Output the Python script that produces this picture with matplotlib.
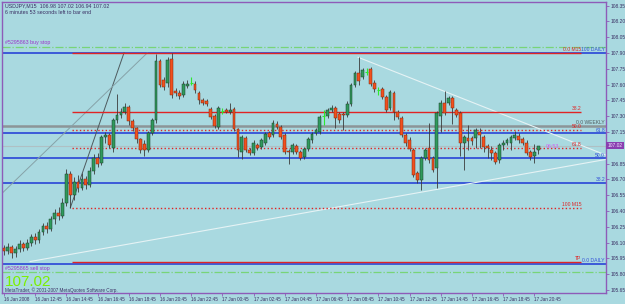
import numpy as np
import matplotlib
matplotlib.use("Agg")
import matplotlib.pyplot as plt

plt.rcParams["font.family"] = ["Liberation Sans", "DejaVu Sans"]

# --- USDJPY M15 candles (bar 0 = 16 Jan 10:45) ---
opens = [106.05, 106.02, 106.06, 106.00, 106.04, 106.09, 106.05, 106.10, 106.15, 106.12,
         106.20, 106.26, 106.23, 106.32, 106.38, 106.35, 106.48, 106.75, 106.55, 106.68,
         106.62, 106.70, 106.65, 106.78, 106.90, 106.86, 107.10, 107.12, 107.00, 107.26,
         107.31, 107.34, 107.39, 107.25, 107.19, 107.08, 107.04, 106.98, 107.14, 107.26,
         107.82, 107.64, 107.62, 107.84, 107.54, 107.52, 107.50, 107.59, 107.62, 107.61,
         107.52, 107.45, 107.44, 107.37, 107.30, 107.20, 107.35, 107.36, 107.34, 107.37,
         107.18, 106.96, 107.09, 106.98, 106.95, 107.03, 107.01, 107.05, 107.14, 107.12,
         107.23, 107.20, 107.12, 106.97, 106.96, 107.02, 106.96, 106.91, 106.99, 107.07,
         107.14, 107.15, 107.30, 107.30, 107.36, 107.38, 107.32, 107.32, 107.31, 107.42,
         107.60, 107.71, 107.67, 107.72, 107.75, 107.62, 107.55, 107.56, 107.48, 107.38,
         107.52, 107.34, 107.28, 107.12, 107.07, 106.98, 106.76, 106.69, 106.90, 107.00,
         106.90, 106.81, 107.30, 107.43, 107.43, 107.47, 107.36, 107.33, 107.05, 107.09,
         107.09, 107.09, 107.15, 107.10, 107.02, 106.98, 106.95, 106.88, 107.03, 107.05,
         107.05, 107.09, 107.11, 107.08, 107.05, 106.96, 106.92, 106.98]
highs = [106.08, 106.10, 106.08, 106.07, 106.12, 106.11, 106.13, 106.18, 106.19, 106.23,
         106.29, 106.30, 106.35, 106.42, 106.44, 106.52, 106.80, 106.78, 106.72, 106.74,
         106.76, 106.73, 106.82, 106.94, 106.95, 107.12, 107.15, 107.14, 107.28, 107.51,
         107.38, 107.43, 107.41, 107.27, 107.20, 107.09, 107.07, 107.16, 107.28, 107.89,
         107.84, 107.67, 107.86, 107.90, 107.57, 107.55, 107.63, 107.64, 107.67, 107.63,
         107.54, 107.47, 107.46, 107.39, 107.32, 107.40, 107.38, 107.38, 107.43, 107.39,
         107.19, 107.12, 107.11, 107.00, 107.07, 107.05, 107.09, 107.15, 107.16, 107.26,
         107.25, 107.22, 107.14, 106.99, 107.05, 107.04, 106.98, 107.01, 107.10, 107.15,
         107.19, 107.31, 107.36, 107.38, 107.41, 107.40, 107.34, 107.34, 107.44, 107.62,
         107.73, 107.86, 107.76, 107.76, 107.77, 107.64, 107.58, 107.58, 107.50, 107.55,
         107.54, 107.36, 107.30, 107.14, 107.10, 107.00, 106.78, 106.92, 107.00, 107.24,
         106.92, 107.35, 107.45, 107.54, 107.49, 107.49, 107.38, 107.35, 107.12, 107.22,
         107.11, 107.19, 107.19, 107.12, 107.04, 107.02, 106.97, 107.05, 107.07, 107.09,
         107.12, 107.16, 107.14, 107.10, 107.07, 106.98, 107.04, 107.02]
lows = [105.98, 105.99, 105.95, 105.96, 106.01, 106.02, 106.03, 106.07, 106.09, 106.10,
        106.17, 106.19, 106.21, 106.28, 106.31, 106.33, 106.45, 106.43, 106.50, 106.58,
        106.60, 106.61, 106.63, 106.75, 106.82, 106.84, 107.05, 107.00, 106.96, 107.24,
        107.28, 107.32, 107.22, 107.16, 107.05, 106.95, 106.92, 106.96, 107.12, 107.24,
        107.58, 107.55, 107.58, 107.47, 107.49, 107.46, 107.48, 107.57, 107.60, 107.52,
        107.42, 107.41, 107.40, 107.27, 107.19, 107.18, 107.32, 107.33, 107.32, 107.16,
        106.91, 106.89, 106.96, 106.93, 106.93, 106.98, 106.99, 107.03, 107.08, 107.10,
        107.18, 107.08, 106.94, 106.85, 106.94, 106.94, 106.88, 106.89, 106.97, 107.05,
        107.12, 107.13, 107.22, 107.28, 107.34, 107.19, 107.24, 107.17, 107.29, 107.40,
        107.58, 107.60, 107.65, 107.69, 107.59, 107.53, 107.50, 107.46, 107.34, 107.36,
        107.26, 107.27, 107.10, 107.02, 106.97, 106.72, 106.67, 106.60, 106.88, 106.86,
        106.77, 106.62, 107.15, 107.31, 107.41, 107.23, 107.29, 106.92, 106.79, 106.98,
        107.03, 107.00, 107.00, 106.96, 106.90, 106.88, 106.85, 106.86, 106.98, 107.03,
        106.98, 107.07, 107.05, 107.03, 106.93, 106.88, 106.86, 106.94]
closes = [106.02, 106.06, 106.00, 106.04, 106.09, 106.05, 106.10, 106.15, 106.12, 106.20,
          106.26, 106.23, 106.32, 106.38, 106.35, 106.48, 106.75, 106.55, 106.68, 106.62,
          106.70, 106.65, 106.78, 106.90, 106.85, 107.10, 107.12, 107.03, 107.26, 107.31,
          107.34, 107.39, 107.25, 107.19, 107.08, 106.98, 106.98, 107.14, 107.26, 107.82,
          107.60, 107.58, 107.83, 107.50, 107.52, 107.49, 107.61, 107.61, 107.62, 107.55,
          107.45, 107.43, 107.42, 107.29, 107.21, 107.38, 107.35, 107.34, 107.36, 107.18,
          106.98, 107.10, 106.98, 106.95, 107.05, 107.00, 107.07, 107.13, 107.10, 107.24,
          107.20, 107.10, 106.96, 106.96, 107.03, 106.96, 106.90, 106.99, 107.08, 107.13,
          107.17, 107.29, 107.30, 107.36, 107.38, 107.28, 107.26, 107.31, 107.42, 107.60,
          107.71, 107.63, 107.74, 107.72, 107.61, 107.56, 107.55, 107.48, 107.36, 107.53,
          107.34, 107.29, 107.12, 107.05, 106.99, 106.74, 106.69, 106.90, 106.98, 106.88,
          106.79, 107.33, 107.43, 107.33, 107.47, 107.38, 107.31, 107.05, 107.10, 107.06,
          107.06, 107.17, 107.12, 107.01, 107.00, 106.95, 106.87, 107.03, 107.05, 107.07,
          107.10, 107.12, 107.07, 107.05, 106.95, 106.91, 106.96, 107.02]

time_ticks = [0, 8, 16, 24, 32, 40, 48, 56, 64, 72, 80, 88, 96, 104, 112, 120, 128, 136]
time_labels = ["16 Jan 2008", "16 Jan 12:45", "16 Jan 14:45", "16 Jan 16:45", "16 Jan 18:45",
               "16 Jan 20:45", "16 Jan 22:45", "17 Jan 00:45", "17 Jan 02:45", "17 Jan 04:45",
               "17 Jan 06:45", "17 Jan 08:45", "17 Jan 10:45", "17 Jan 12:45", "17 Jan 14:45",
               "17 Jan 16:45", "17 Jan 18:45", "17 Jan 20:45"]
price_ticks = [108.35, 108.20, 108.05, 107.90, 107.75, 107.60, 107.45, 107.30, 107.15,
               106.85, 106.70, 106.55, 106.40, 106.25, 106.10, 105.95, 105.80, 105.65]

# Fibonacci levels
daily_levels = [107.90, 107.136, 106.90, 106.664, 105.895]
daily_labels = ["100 DAILY", "61.8", "50.0", "38.2", "0.0 DAILY"]
m15_levels = [107.905, 107.34, 107.17, 106.995, 106.43, 105.915]
m15_labels = ["0.0 M15", "38.2", "50.0", "61.8", "100 M15", "TP"]
m15_styles = ["-", "-", ":", ":", ":", "-"]
weekly_level = 107.21
bid = 107.02
buy_stop = 107.96
sell_stop = 105.82

# trend lines: (bar0, price0, bar1, price1)
fib_diag = (17.0, 106.43, 30.8, 107.905)
daily_diag = (-1.0, 106.55, 36.7, 107.90)
resist_line = (90.8, 107.86, 154.4, 106.93)
support_line = (6.7, 105.92, 154.4, 106.89)

BG = "#A9D9E0"
PURPLE = "#8E5BB8"
BLUE = "#3350D8"
RED = "#E02424"
TXT = "#3A2F63"

fig = plt.figure(figsize=(6.25, 3.04), dpi=100, facecolor=BG)
ax = fig.add_axes([2 / 625, 11 / 304, 604 / 625, 291 / 304], facecolor=BG)
ax.set_xlim(-0.51, 154.36)
ax.set_ylim(105.621, 108.385)

# --- horizontal levels ---
ax.axhline(buy_stop, color="#78D478", lw=0.9, ls="-.", zorder=1)
ax.axhline(sell_stop, color="#78D478", lw=0.9, ls="-.", zorder=1)
ax.axhline(weekly_level, color="#8C9598", lw=1.8, zorder=1)
ax.axhline(bid, color="#AFC0C4", lw=0.8, zorder=1)
for lv, lb in zip(daily_levels, daily_labels):
    ax.axhline(lv, color=BLUE, lw=1.3, zorder=2)
    ax.text(154.1, lv + 0.008, lb, color=BLUE, fontsize=3.6, ha="right", va="bottom", zorder=6)
for lv, lb, st in zip(m15_levels, m15_labels, m15_styles):
    ax.hlines(lv, 17.4, 148.0, color=RED, lw=1.0, linestyles=st, zorder=3)
    ax.text(148.0, lv + 0.008, lb, color=RED, fontsize=3.6, ha="right", va="bottom", zorder=6)
ax.text(154.1, weekly_level + 0.008, "0.0 WEEKLY", color="#505A5E", fontsize=3.6,
        ha="right", va="bottom", zorder=6)

# --- trend lines ---
for (x0, y0, x1, y1), col, lw in [(fib_diag, "#4E5A5E", 0.7), (daily_diag, "#86A2A8", 0.7),
                                  (resist_line, "#E6F3F5", 0.8), (support_line, "#E6F3F5", 0.8)]:
    ax.plot([x0, x1], [y0, y1], color=col, lw=lw, zorder=2)

# --- candles ---
o = np.array(opens); h = np.array(highs); l = np.array(lows); c = np.array(closes)
x = np.arange(len(o))
doji = np.abs(c - o) < 0.005
up = (c > o) & ~doji
dn = (c < o) & ~doji
ax.vlines(x[~doji], l[~doji], h[~doji], color="#3B3B3B", lw=0.6, zorder=4)
ax.bar(x[up], c[up] - o[up], bottom=o[up], width=0.72, color="#2F9A5C",
       edgecolor="#1C3A28", lw=0.35, zorder=5)
ax.bar(x[dn], c[dn] - o[dn], bottom=o[dn], width=0.72, color="#F2501E",
       edgecolor="#7A2A10", lw=0.35, zorder=5)
ax.vlines(x[doji], l[doji], h[doji], color="#2EE82E", lw=0.8, zorder=5)
ax.hlines(o[doji], x[doji] - 0.4, x[doji] + 0.4, color="#2EE82E", lw=0.8, zorder=5)

# --- texts ---
ax.text(0.3, 108.37, "USDJPY,M15  106.98 107.02 106.94 107.02", color=TXT,
        fontsize=3.8, va="top", ha="left")
ax.text(0.3, 108.305, "6 minutes 53 seconds left to bar end", color=TXT,
        fontsize=3.8, va="top", ha="left")
ax.text(0.3, buy_stop + 0.012, "#5295863 buy stop", color="#9A35C8", fontsize=3.8, va="bottom")
ax.text(0.3, sell_stop + 0.012, "#5295865 sell stop", color="#9A35C8", fontsize=3.8, va="bottom")
ax.text(0.2, 105.69, "107.02", color="#7CF000", fontsize=11, va="baseline", ha="left",
        zorder=7)
ax.text(0.3, 105.624, "MetaTrader, \u00a9 2001-2007 MetaQuotes Software Corp.", color=TXT,
        fontsize=3.3, va="bottom", zorder=7)
ax.text(139.0, bid - 0.005, "06:53", color="#D060F0", fontsize=3.8, va="center")

# --- axes ---
for s in ax.spines.values():
    s.set_color(PURPLE)
    s.set_linewidth(1.0)
ax.yaxis.tick_right()
ax.set_yticks(price_ticks)
ax.set_yticklabels([f"{p:.2f}" for p in price_ticks])
ax.tick_params(axis="y", length=2.0, width=0.6, color=PURPLE, labelsize=3.5,
               labelcolor=TXT, pad=1.5)
ax.set_xticks(time_ticks)
ax.set_xticklabels(time_labels, ha="left")
ax.tick_params(axis="x", length=2.0, width=0.6, color=PURPLE, labelsize=3.3,
               labelcolor=TXT, pad=1.2)
ax.text(1.002, (bid - 105.621) / (108.385 - 105.621), "107.02", transform=ax.transAxes,
        color="#F0E8FF", fontsize=3.5, ha="left", va="center",
        bbox=dict(boxstyle="square,pad=0.25", fc="#8A3FB0", ec="none"))

fig.savefig("out.png", dpi=100, facecolor=BG)
